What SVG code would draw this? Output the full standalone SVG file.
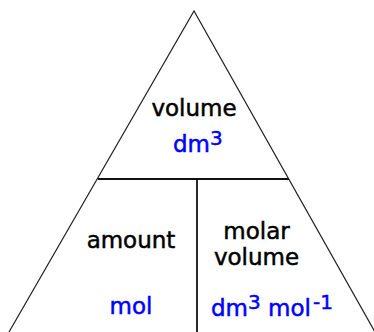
<svg xmlns="http://www.w3.org/2000/svg" width="374" height="332" viewBox="0 0 374 332">
<style>
.t{font-family:"DejaVu Sans",Verdana,sans-serif;font-size:23px;fill:#000;stroke:#000;stroke-width:0.5}
.u{font-family:"DejaVu Sans",Verdana,sans-serif;font-size:23px;fill:#0000ff;stroke:#0000ff;stroke-width:0.5}
.s{font-size:20px}
.side{stroke:#222;stroke-width:1.2;fill:none}
.div{stroke:#111;stroke-width:1.8;fill:none}
</style>
<rect width="374" height="332" fill="#fff"/>
<g id="lines">
<polyline class="side" points="9,332 194,11 375,332"/>
<line class="div" x1="98" y1="179" x2="289" y2="179"/>
<line class="div" x1="197" y1="179" x2="197" y2="332"/>
</g>
<g id="volume">
<text class="t" x="194" y="116" text-anchor="middle">volume</text>
<text class="u" x="173" y="152">dm<tspan class="s" dy="-7">3</tspan></text>
</g>
<g id="amount">
<text class="t" x="131" y="248" text-anchor="middle">amount</text>
<text class="u" x="131" y="314" text-anchor="middle">mol</text>
</g>
<g id="molar-volume">
<text class="t" x="256.5" y="239" text-anchor="middle">molar</text>
<text class="t" x="256.5" y="265" text-anchor="middle">volume</text>
<text class="u" x="211" y="316">dm<tspan class="s" dy="-7">3</tspan><tspan dy="7"> mol</tspan><tspan class="s" dx="2" dy="-7">-1</tspan></text>
</g>
</svg>
